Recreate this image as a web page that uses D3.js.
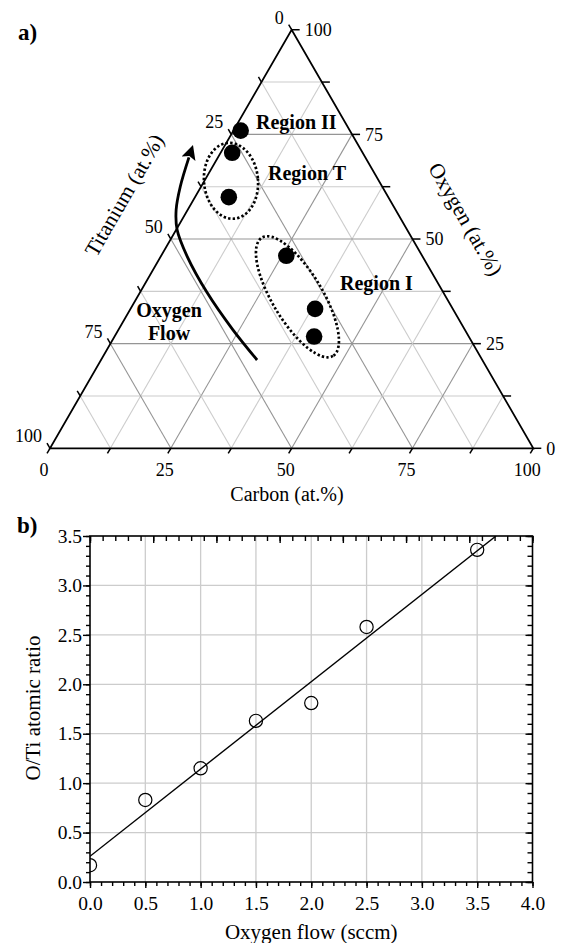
<!DOCTYPE html>
<html>
<head>
<meta charset="utf-8">
<script src="https://cdn.jsdelivr.net/npm/d3@7"></script>
<style>
  body { margin: 0; background: #fff; }
  svg { display: block; font-family: "Liberation Serif", "Times New Roman", serif; }
</style>
</head>
<body>
<div id="chart"></div>
<script>
// ---- panel a: ternary compositions (at.%) ----
const carbon   = [1.5, 2.4, 7.0, 25.9, 38.2, 41.3];
const oxygen   = [75.9, 70.6, 60.0, 46.0, 33.3, 26.7];
const titanium = [22.6, 27.0, 33.0, 28.1, 28.5, 32.0];
const ternLabels = [0, 25, 50, 75, 100];
const ternGrid = [12.5, 25, 37.5, 50, 62.5, 75, 87.5];
const ternTicks = [0, 12.5, 25, 37.5, 50, 62.5, 75, 87.5, 100];

// annotation shapes, centres in (carbon, oxygen)
const regionRings = [
  {c: 5.5, o: 63.9, rx: 27, ry: 38, rot: -5},
  {c: 33.1, o: 36.2, rx: 69, ry: 25, rot: 59}
];
// oxygen-flow arrow path in (carbon, oxygen)
const arrowC = [32.3, 23.7, 13.9, 5.5, 0.2, -2.4, -4.3, -6.0];
const arrowO = [21.1, 28.3, 37.2, 45.8, 52.2, 57.0, 62.5, 69.5];

// ---- panel b: O/Ti ratio vs oxygen flow ----
const flow  = [0.0, 0.5, 1.0, 1.5, 2.0, 2.5, 3.5];
const ratio = [0.17, 0.83, 1.15, 1.63, 1.81, 2.58, 3.36];
const fitFlow  = [0, 3.67];
const fitRatio = [0.26, 3.5];
const flowTicks  = [0, 0.5, 1.0, 1.5, 2.0, 2.5, 3.0, 3.5, 4.0];
const ratioTicks = [0, 0.5, 1.0, 1.5, 2.0, 2.5, 3.0, 3.5];

const W = 561, H = 943;
const svg = d3.select("#chart").append("svg").attr("width", W).attr("height", H);
const defs = svg.append("defs");

// ================= panel a =================
const tLeft = 50, tRight = 533.3, tBottom = 448.3;
const side = tRight - tLeft;
const tx = d3.scaleLinear().domain([0, 100]).range([tLeft, tRight]);
const ty = d3.scaleLinear().domain([0, 100]).range([tBottom, tBottom - side * Math.sqrt(3) / 2]);
function proj(c, o) { return [tx(c + o / 2), ty(o)]; }

const ga = svg.append("g");

// grid
ternGrid.forEach(v => {
  let col = (v % 25 == 0) ? "#959595" : "#cccccc";
  let segs = [
    [proj(0, v), proj(100 - v, v)],          // constant oxygen
    [proj(v, 0), proj(v, 100 - v)],          // constant carbon
    [proj(100 - v, 0), proj(0, 100 - v)]     // constant titanium
  ];
  segs.forEach(s => {
    ga.append("line")
      .attr("x1", s[0][0]).attr("y1", s[0][1])
      .attr("x2", s[1][0]).attr("y2", s[1][1])
      .attr("stroke", col).attr("stroke-width", 1.1);
  });
});

// outline
ga.append("path")
  .attr("d", d3.line()([proj(0, 0), proj(100, 0), proj(0, 100)]) + "Z")
  .attr("fill", "none").attr("stroke", "#000").attr("stroke-width", 1.8);

// ticks
const tl = 6, s3 = Math.sqrt(3) / 2;
ternTicks.forEach(v => {
  let b = proj(v, 0);
  ga.append("line").attr("x1", b[0]).attr("y1", b[1])
    .attr("x2", b[0] - 0.5 * tl).attr("y2", b[1] + s3 * tl)
    .attr("stroke", "#000").attr("stroke-width", 1.5);
  let r = proj(100 - v, v);
  ga.append("line").attr("x1", r[0]).attr("y1", r[1])
    .attr("x2", r[0] + tl + 2).attr("y2", r[1])
    .attr("stroke", "#000").attr("stroke-width", 1.5);
  let l = proj(0, 100 - v);
  ga.append("line").attr("x1", l[0]).attr("y1", l[1])
    .attr("x2", l[0] - 0.5 * tl).attr("y2", l[1] - s3 * tl)
    .attr("stroke", "#000").attr("stroke-width", 1.5);
});

// tick labels
ternLabels.forEach(v => {
  let b = proj(v, 0);
  ga.append("text").attr("x", b[0] - 6).attr("y", b[1] + 28)
    .attr("text-anchor", "middle").attr("font-size", 18).text(v);
  let r = proj(100 - v, v);
  ga.append("text").attr("x", r[0] + 13).attr("y", r[1]).attr("dy", "0.35em")
    .attr("font-size", 18).text(v);
  let l = proj(0, 100 - v);
  ga.append("text").attr("x", l[0] - 8).attr("y", l[1] - 6)
    .attr("text-anchor", "end").attr("font-size", 18).text(v);
});

// axis titles
ga.append("text").attr("transform", "translate(124,195) rotate(-60)")
  .attr("text-anchor", "middle").attr("dy", "0.35em").attr("font-size", 21.5)
  .text("Titanium (at.%)");
ga.append("text").attr("transform", "translate(466,219) rotate(60)")
  .attr("text-anchor", "middle").attr("dy", "0.35em").attr("font-size", 21.5)
  .text("Oxygen (at.%)");
ga.append("text").attr("x", 287).attr("y", 501)
  .attr("text-anchor", "middle").attr("font-size", 20).text("Carbon (at.%)");

// dotted region rings
regionRings.forEach(e => {
  let p = proj(e.c, e.o);
  ga.append("ellipse")
    .attr("transform", "translate(" + p[0] + "," + p[1] + ") rotate(" + e.rot + ")")
    .attr("rx", e.rx).attr("ry", e.ry)
    .attr("fill", "none").attr("stroke", "#000")
    .attr("stroke-width", 2.7).attr("stroke-dasharray", "2.4 2.2");
});

// arrow
defs.append("marker")
  .attr("id", "head").attr("viewBox", "0 0 10 10")
  .attr("refX", 1).attr("refY", 5)
  .attr("markerWidth", 6).attr("markerHeight", 5.2)
  .attr("markerUnits", "strokeWidth").attr("orient", "auto")
  .append("path").attr("d", "M0,0 L10,5 L0,10 L2,5 Z").attr("fill", "#000");

const arrowPts = arrowC.map((c, i) => proj(c, arrowO[i]));
ga.append("path")
  .attr("d", d3.line().curve(d3.curveCatmullRom)(arrowPts))
  .attr("fill", "none").attr("stroke", "#000").attr("stroke-width", 2.8)
  .attr("marker-end", "url(#head)");

// points
ga.selectAll("circle.pt").data(carbon).enter().append("circle")
  .attr("class", "pt")
  .attr("cx", (d, i) => proj(d, oxygen[i])[0])
  .attr("cy", (d, i) => proj(d, oxygen[i])[1])
  .attr("r", 8.3).attr("fill", "#000");

// annotations
const bold = (x, y, t, anchor) => ga.append("text").attr("x", x).attr("y", y)
  .attr("text-anchor", anchor || "start").attr("font-size", 20).attr("font-weight", "bold").text(t);
bold(256, 129, "Region II");
bold(268, 180, "Region T");
bold(340, 290, "Region I");
bold(169, 317, "Oxygen", "middle");
bold(169, 340, "Flow", "middle");

svg.append("text").attr("x", 18).attr("y", 40)
  .attr("font-size", 23).attr("font-weight", "bold").text("a)");

// ================= panel b =================
const bL = 90, bR = 532.5, bT = 536, bB = 882;
const bx = d3.scaleLinear().domain([0, 4]).range([bL, bR]);
const by = d3.scaleLinear().domain([0, 3.5]).range([bB, bT]);
const bxTop = d3.scaleLinear().domain([0, 7]).range([bL, bR]);

const gb = svg.append("g");

// grid
gb.selectAll("line.gx").data(flowTicks.slice(1, -1)).enter().append("line")
  .attr("x1", d => bx(d)).attr("x2", d => bx(d)).attr("y1", bT).attr("y2", bB)
  .attr("stroke", "#cccccc").attr("stroke-width", 1.3);
gb.selectAll("line.gy").data(ratioTicks.slice(1, -1)).enter().append("line")
  .attr("y1", d => by(d)).attr("y2", d => by(d)).attr("x1", bL).attr("x2", bR)
  .attr("stroke", "#cccccc").attr("stroke-width", 1.3);

const fmt = d3.format(".1f");
const minorX = d3.range(0, 4.001, 0.1);
const minorY = d3.range(0, 3.501, 0.1);
const minorTop = d3.range(0, 7.001, 0.2);

function styleAxis(g) {
  g.select(".domain").remove();
  g.selectAll("line").attr("stroke", "#000").attr("stroke-width", 1.4);
  g.selectAll("text").attr("font-family", "Liberation Serif").attr("font-size", 19.5).attr("fill", "#000");
}

// bottom
gb.append("g").attr("transform", "translate(0," + bB + ")")
  .call(d3.axisBottom(bx).tickValues(minorX).tickFormat("").tickSize(4)).call(styleAxis);
gb.append("g").attr("transform", "translate(0," + bB + ")")
  .call(d3.axisBottom(bx).tickValues(flowTicks).tickFormat(fmt).tickSize(6).tickPadding(8)).call(styleAxis);
// left
gb.append("g").attr("transform", "translate(" + bL + ",0)")
  .call(d3.axisLeft(by).tickValues(minorY).tickFormat("").tickSize(4)).call(styleAxis);
gb.append("g").attr("transform", "translate(" + bL + ",0)")
  .call(d3.axisLeft(by).tickValues(ratioTicks).tickFormat(fmt).tickSize(7).tickPadding(1)).call(styleAxis);
// right (inward)
gb.append("g").attr("transform", "translate(" + bR + ",0)")
  .call(d3.axisRight(by).tickValues(minorY).tickFormat("").tickSize(-5)).call(styleAxis);
gb.append("g").attr("transform", "translate(" + bR + ",0)")
  .call(d3.axisRight(by).tickValues(ratioTicks).tickFormat("").tickSize(-7)).call(styleAxis);
// top (inward)
gb.append("g").attr("transform", "translate(0," + bT + ")")
  .call(d3.axisTop(bxTop).tickValues(minorTop).tickFormat("").tickSize(-5)).call(styleAxis);
gb.append("g").attr("transform", "translate(0," + bT + ")")
  .call(d3.axisTop(bxTop).tickValues(d3.range(0, 8)).tickFormat("").tickSize(-7)).call(styleAxis);

// frame
gb.append("rect").attr("x", bL).attr("y", bT).attr("width", bR - bL).attr("height", bB - bT)
  .attr("fill", "none").attr("stroke", "#000").attr("stroke-width", 1.6);

// clip
defs.append("clipPath").attr("id", "plotb")
  .append("rect").attr("x", bL).attr("y", bT).attr("width", bR - bL).attr("height", bB - bT);

const inner = gb.append("g").attr("clip-path", "url(#plotb)");

// fit line
inner.append("path")
  .attr("d", d3.line()(fitFlow.map((f, i) => [bx(f), by(fitRatio[i])])))
  .attr("stroke", "#000").attr("stroke-width", 1.4).attr("fill", "none");

// data
inner.selectAll("circle").data(flow).enter().append("circle")
  .attr("cx", d => bx(d)).attr("cy", (d, i) => by(ratio[i]))
  .attr("r", 6.6).attr("fill", "none").attr("stroke", "#000").attr("stroke-width", 1.2);

// titles
svg.append("text").attr("transform", "translate(33,708) rotate(-90)")
  .attr("text-anchor", "middle").attr("dy", "0.35em").attr("font-size", 21)
  .text("O/Ti atomic ratio");
svg.append("text").attr("x", (bL + bR) / 2).attr("y", 939)
  .attr("text-anchor", "middle").attr("font-size", 21).text("Oxygen flow (sccm)");
svg.append("text").attr("x", 17).attr("y", 533)
  .attr("font-size", 23).attr("font-weight", "bold").text("b)");
</script>
</body>
</html>
